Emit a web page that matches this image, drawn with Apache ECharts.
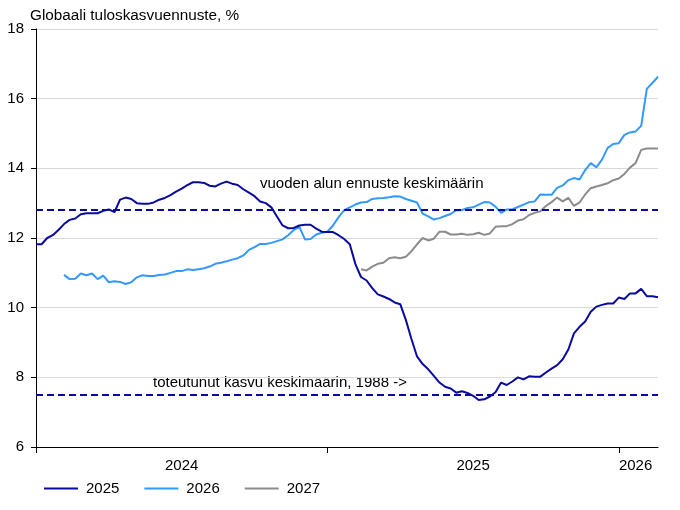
<!DOCTYPE html>
<html><head><meta charset="utf-8">
<script src="https://cdn.jsdelivr.net/npm/echarts@6/dist/echarts.min.js"></script>
<style>html,body{margin:0;padding:0;background:#fff}#c{width:680px;height:510px}</style>
</head><body><div id="c"></div>
<script>
// weekly observations, Jan 2024 .. Feb 2026 (index = week number)
const nWeeks = 112;
const yearTickIdx = [0, 52, 104];
const yearLabelIdx = [26, 78, 107];
const yearLabels = ['2024', '2025', '2026'];

const title = 'Globaali tuloskasvuennuste, %';
const avgForecast = 12.8;      // vuoden alun ennuste keskimäärin
const avgRealized = 7.5;       // toteutunut kasvu keskimäärin, 1988 ->
const noteForecast = 'vuoden alun ennuste keskimäärin';
const noteRealized = 'toteutunut kasvu keskimäärin, 1988 ->';

const start2025 = 0;
const e2025 = [11.82,11.82,12.0,12.08,12.23,12.4,12.52,12.56,12.68,12.71,
  12.71,12.71,12.78,12.82,12.74,13.1,13.16,13.12,13.0,12.98,
  12.98,13.02,13.1,13.15,13.23,13.33,13.42,13.52,13.6,13.6,
  13.58,13.5,13.48,13.56,13.62,13.56,13.52,13.4,13.3,13.2,
  13.05,13.0,12.88,12.62,12.36,12.28,12.29,12.36,12.38,12.38,
  12.27,12.18,12.17,12.17,12.08,11.97,11.82,11.25,10.88,10.78,
  10.56,10.38,10.32,10.25,10.15,10.1,9.65,9.1,8.6,8.38,
  8.23,8.04,7.85,7.73,7.68,7.56,7.6,7.55,7.47,7.35,
  7.37,7.45,7.57,7.85,7.78,7.88,8.0,7.94,8.03,8.02,
  8.02,8.14,8.25,8.35,8.52,8.8,9.26,9.45,9.6,9.88,
  10.03,10.08,10.12,10.12,10.29,10.25,10.41,10.41,10.54,10.33,
  10.33,10.3];

const start2026 = 5;
const e2026 = [10.94,10.82,10.83,10.98,10.93,
  10.98,10.82,10.92,10.73,10.76,10.74,10.68,10.73,10.87,10.93,
  10.91,10.91,10.94,10.95,11.0,11.05,11.05,11.1,11.08,11.1,
  11.13,11.18,11.26,11.29,11.33,11.38,11.42,11.5,11.66,11.74,
  11.83,11.83,11.86,11.91,11.96,12.08,12.23,12.32,11.96,11.97,
  12.1,12.15,12.18,12.36,12.6,12.8,12.88,12.96,13.02,13.03,
  13.12,13.14,13.15,13.17,13.2,13.19,13.12,13.07,13.02,12.7,
  12.62,12.53,12.57,12.63,12.69,12.8,12.8,12.86,12.88,12.96,
  13.03,13.02,12.9,12.72,12.82,12.82,12.89,12.96,13.03,13.05,
  13.25,13.24,13.24,13.44,13.51,13.66,13.72,13.68,13.95,14.15,
  14.03,14.25,14.58,14.7,14.72,14.96,15.03,15.06,15.22,16.28,
  16.45,16.63];

const start2027 = 58;
const e2027 = [11.1,11.07,11.18,11.26,11.29,11.42,11.45,11.42,11.46,11.62,
  11.82,12.0,11.93,11.98,12.18,12.18,12.1,12.1,12.12,12.09,
  12.11,12.15,12.09,12.13,12.32,12.34,12.34,12.4,12.5,12.54,
  12.66,12.72,12.77,12.92,13.03,13.16,13.05,13.15,12.92,13.02,
  13.25,13.43,13.48,13.52,13.57,13.66,13.71,13.84,14.02,14.15,
  14.53,14.57,14.57,14.57];

const weeks = [];
for (let i = 0; i < nWeeks; i++) weeks.push(String(i));
function pad(start, vals) {
  const out = new Array(start).fill(null).concat(vals);
  while (out.length < nWeeks) out.push(null);
  return out;
}

const C25 = '#0a0a9e', C26 = '#3399ff', C27 = '#8c8c8c';
const FONT = 'Liberation Sans, Arial, sans-serif';

const chart = echarts.init(document.getElementById('c'));
chart.setOption({
  animation: false,
  backgroundColor: '#fff',
  textStyle: { fontFamily: FONT },
  title: {
    text: title, left: 30, top: 8, padding: 0,
    textStyle: { fontSize: 15.3, fontWeight: 'normal', color: '#000', fontFamily: FONT }
  },
  grid: { left: 36, right: 22, top: 29, bottom: 63, containLabel: false },
  legend: {
    bottom: 14, left: 44, padding: 0, itemWidth: 34, itemHeight: 2, itemGap: 25,
    icon: 'rect',
    data: ['2025', '2026', '2027'],
    textStyle: { fontSize: 15, color: '#000', fontFamily: FONT, padding: [0, 0, 0, 3] }
  },
  xAxis: {
    type: 'category', data: weeks, boundaryGap: false,
    axisLine: { lineStyle: { color: '#000', width: 1 } },
    axisTick: { show: true, length: 6, lineStyle: { color: '#000' },
      interval: (i) => yearTickIdx.includes(i) },
    axisLabel: { show: true, margin: 11, fontSize: 15, color: '#000', fontFamily: FONT,
      interval: (i) => yearLabelIdx.includes(i),
      formatter: (v, i) => { const k = yearLabelIdx.indexOf(i); return k >= 0 ? yearLabels[k] : ''; } },
    splitLine: { show: false }
  },
  yAxis: {
    type: 'value', min: 6, max: 18, interval: 2,
    axisLine: { show: true, lineStyle: { color: '#000', width: 1 } },
    axisTick: { show: true, length: 5, lineStyle: { color: '#000' } },
    axisLabel: { margin: 12, fontSize: 15, color: '#000', fontFamily: FONT },
    splitLine: { show: true, lineStyle: { color: '#d9d9d9', width: 1 } }
  },
  series: [
    { name: '2027', type: 'line', data: pad(start2027, e2027), symbol: 'none', showSymbol: false,
      lineStyle: { color: C27, width: 2 }, itemStyle: { color: C27 }, z: 2 },
    { name: '2026', type: 'line', data: pad(start2026, e2026), symbol: 'none', showSymbol: false,
      lineStyle: { color: C26, width: 2 }, itemStyle: { color: C26 }, z: 3 },
    { name: '2025', type: 'line', data: pad(start2025, e2025), symbol: 'none', showSymbol: false,
      lineStyle: { color: C25, width: 2 }, itemStyle: { color: C25 }, z: 4,
      markLine: {
        silent: true, symbol: 'none', animation: false,
        label: { show: false },
        lineStyle: { color: C25, width: 2, type: [7, 4] },
        data: [{ yAxis: avgForecast }, { yAxis: avgRealized }]
      } }
  ],
  graphic: [
    { type: 'text', left: 260, top: 176, style: { text: noteForecast, fontSize: 15, fill: '#000', fontFamily: FONT } },
    { type: 'text', left: 153, top: 375, style: { text: noteRealized, fontSize: 15, fill: '#000', fontFamily: FONT } }
  ]
});
</script>
</body></html>
